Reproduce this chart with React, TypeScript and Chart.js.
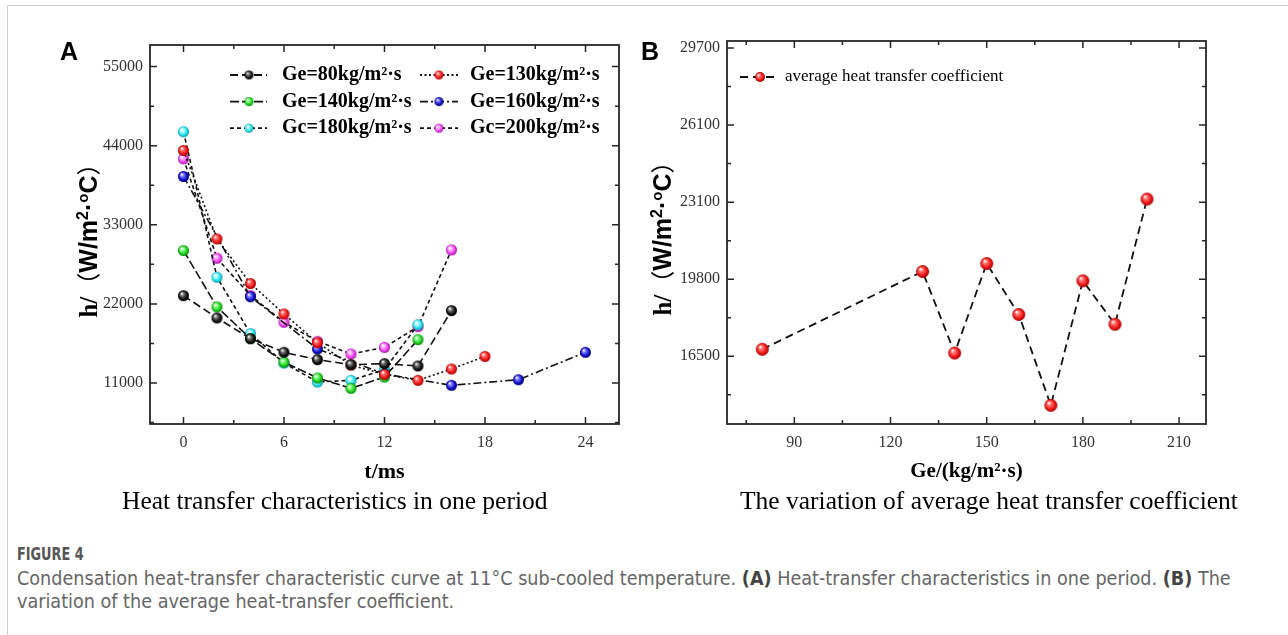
import React, { useEffect, useRef } from 'react';
import { Chart, registerables } from 'chart.js';

Chart.register(...registerables);

// ---------- Panel A data (t in ms, h in W/m2·°C) ----------
const T_80 = [0, 2, 4, 6, 8, 10, 12, 14, 16];
const H_80 = [23150, 20050, 17170, 15270, 14250, 13550, 13690, 13370, 21070];
const T_130 = [0, 2, 4, 6, 8, 10, 12, 14, 16, 18];
const H_130 = [43340, 31040, 24830, 20600, 16600, 13500, 12200, 11370, 12950, 14700];
const T_140 = [0, 2, 4, 6, 8, 10, 12, 14];
const H_140 = [29420, 21580, 17170, 13900, 11700, 10260, 11840, 17030];
const T_160 = [0, 4, 8, 12, 16, 20, 24];
const H_160 = [39720, 23000, 15730, 12250, 10680, 11460, 15270];
const T_180 = [0, 2, 4, 6, 8, 10, 12, 14];
const H_180 = [45940, 25710, 17870, 13780, 11140, 11370, 12860, 19100];
const T_200 = [0, 2, 4, 6, 8, 10, 12, 14, 16];
const H_200 = [42180, 28350, 23160, 19440, 16800, 15040, 15960, 18840, 29510];

const A_LABELS = [
  'Ge=80kg/m²·s',
  'Ge=130kg/m²·s',
  'Ge=140kg/m²·s',
  'Ge=160kg/m²·s',
  'Gc=180kg/m²·s',
  'Gc=200kg/m²·s',
];
const A_X_TICKS = [0, 6, 12, 18, 24];
const A_X_MINOR = [3, 9, 15, 21];
const A_Y_TICKS = [11000, 22000, 33000, 44000, 55000];
const A_Y_MINOR = [5500, 16500, 27500, 38500, 49500];

// ---------- Panel B data ----------
const GE = [80, 130, 140, 150, 160, 170, 180, 190, 200];
const H_AVG = [16800, 20130, 16640, 20470, 18290, 14400, 19730, 17870, 23230];
const B_LABEL = 'average heat transfer coefficient';
const B_X_TICKS = [90, 120, 150, 180, 210];
const B_X_MINOR = [75, 105, 135, 165, 195];
const B_Y_TICKS = [16500, 19800, 23100, 26400, 29700];
const B_Y_TICK_LABELS = ['16500', '19800', '23100', '26100', '29700'];
const B_Y_MINOR = [14850, 18150, 21450, 24750, 28050];

const SERIF = "'Liberation Serif', 'Times New Roman', serif";
const SANS = "'Liberation Sans', Arial, sans-serif";
const CJK = "'Noto Sans CJK SC', sans-serif";

// y-axis title, drawn as text runs (serif "h/", full-width brackets, sans units)
const Y_TITLE_RUNS = [
  { t: 'h/', font: `bold 25px ${SERIF}`, dy: 0 },
  { t: '（', font: `24px ${CJK}`, dy: 0 },
  { t: 'W/m', font: `bold 25px ${SANS}`, dy: 0 },
  { t: '2', font: `bold 16px ${SANS}`, dy: -9 },
  { t: '·', font: `bold 25px ${SANS}`, dy: 0 },
  { t: 'o', font: `bold 15px ${SANS}`, dy: -9 },
  { t: 'C', font: `bold 25px ${SANS}`, dy: 0 },
  { t: '）', font: `24px ${CJK}`, dy: 0 },
];

function makeSphere(cols: string[], r: number): HTMLCanvasElement {
  const size = Math.ceil(2 * r + 2);
  const c = document.createElement('canvas');
  c.width = size;
  c.height = size;
  const ctx = c.getContext('2d') as CanvasRenderingContext2D;
  const cx = size / 2;
  const cy = size / 2;
  const g = ctx.createRadialGradient(cx - r * 0.35, cy - r * 0.4, r * 0.05, cx, cy, r);
  g.addColorStop(0, '#ffffff');
  g.addColorStop(0.3, cols[0]);
  g.addColorStop(0.7, cols[1]);
  g.addColorStop(1, cols[2]);
  ctx.fillStyle = g;
  ctx.beginPath();
  ctx.arc(cx, cy, r, 0, Math.PI * 2);
  ctx.fill();
  return c;
}

const SPHERE_COLS: string[][] = [
  ['#777777', '#151515', '#000000'],
  ['#ff7070', '#f01818', '#a00000'],
  ['#8cff8c', '#22d422', '#0a800a'],
  ['#7878ff', '#1212cc', '#000070'],
  ['#b8ffff', '#22e2f0', '#0a92a2'],
  ['#ffb4ff', '#ee44ee', '#a010a0'],
];
const A_DASHES: number[][] = [[8, 4], [2, 2.5], [9, 3], [8, 3, 2, 3], [4, 3], [4, 3]];

const framePlugin = {
  id: 'frameTicks',
  afterDraw(chart: any, _args: any, opts: any) {
    const { ctx, chartArea } = chart;
    const { left, right, top, bottom } = chartArea;
    const xs = chart.scales.x;
    const ys = chart.scales.y;
    ctx.save();
    ctx.setLineDash([]);
    ctx.strokeStyle = '#262626';
    ctx.lineWidth = 1.8;
    ctx.strokeRect(left, top, right - left, bottom - top);
    ctx.lineWidth = 1.5;
    const drawX = (vals: number[], len: number) => {
      vals.forEach((v) => {
        const p = xs.getPixelForValue(v);
        ctx.beginPath();
        ctx.moveTo(p, bottom);
        ctx.lineTo(p, bottom - len);
        ctx.moveTo(p, top);
        ctx.lineTo(p, top + len);
        ctx.stroke();
      });
    };
    const drawY = (vals: number[], len: number) => {
      vals.forEach((v) => {
        const p = ys.getPixelForValue(v);
        ctx.beginPath();
        ctx.moveTo(left, p);
        ctx.lineTo(left + len, p);
        ctx.moveTo(right, p);
        ctx.lineTo(right - len, p);
        ctx.stroke();
      });
    };
    drawX(opts.xMajor, 7);
    drawX(opts.xMinor, 4);
    drawY(opts.yMajor, 7);
    drawY(opts.yMinor, 4);

    // rotated y-axis title
    const cx = opts.titleX;
    const cy = (top + bottom) / 2;
    ctx.translate(cx, cy);
    ctx.rotate(-Math.PI / 2);
    ctx.fillStyle = '#000';
    ctx.textBaseline = 'alphabetic';
    ctx.textAlign = 'left';
    let total = 0;
    Y_TITLE_RUNS.forEach((r) => {
      ctx.font = r.font;
      total += ctx.measureText(r.t).width;
    });
    let x = -total / 2;
    Y_TITLE_RUNS.forEach((r) => {
      ctx.font = r.font;
      ctx.fillText(r.t, x, 9 + r.dy);
      x += ctx.measureText(r.t).width;
    });
    ctx.restore();
  },
};

const legendPlugin = {
  id: 'sphereLegend',
  afterDraw(chart: any, _args: any, opts: any) {
    const { ctx } = chart;
    ctx.save();
    opts.items.forEach((it: any, i: number) => {
      const ds = chart.data.datasets[i];
      ctx.strokeStyle = '#111';
      ctx.lineWidth = 1.8;
      ctx.setLineDash(ds.borderDash || []);
      ctx.beginPath();
      ctx.moveTo(it.x0, it.y);
      ctx.lineTo(it.x1, it.y);
      ctx.stroke();
      ctx.setLineDash([]);
      const img = opts.markers[i];
      ctx.drawImage(img, it.mx - img.width / 2, it.y - img.height / 2);
      ctx.fillStyle = '#000';
      ctx.font = opts.font;
      ctx.textBaseline = 'middle';
      ctx.textAlign = 'left';
      ctx.fillText(ds.label, it.tx, it.y);
    });
    ctx.restore();
  },
};

const tickFont = { family: SERIF, size: 16 };

export default function App() {
  const leftRef = useRef<HTMLCanvasElement>(null);
  const rightRef = useRef<HTMLCanvasElement>(null);

  useEffect(() => {
    const seriesT = [T_80, T_130, T_140, T_160, T_180, T_200];
    const seriesH = [H_80, H_130, H_140, H_160, H_180, H_200];
    const spheres = SPHERE_COLS.map((c) => makeSphere(c, 5.5));
    const legSpheres = SPHERE_COLS.map((c) => makeSphere(c, 4.5));
    const legendItems = A_LABELS.map((_, i) => {
      const col = i % 2;
      const row = Math.floor(i / 2);
      const y = 75 + row * 26.6;
      return col === 0
        ? { x0: 230, x1: 267, mx: 249, tx: 282, y }
        : { x0: 420, x1: 458, mx: 439, tx: 470, y };
    });

    const left = new Chart(leftRef.current as HTMLCanvasElement, {
      type: 'line',
      data: {
        datasets: A_LABELS.map((label, i) => ({
          label,
          data: seriesT[i].map((t, j) => ({ x: t, y: seriesH[i][j] })),
          borderColor: '#111',
          borderWidth: 1.6,
          borderDash: A_DASHES[i],
          pointStyle: spheres[i] as any,
          pointRadius: 6,
          fill: false,
          tension: 0,
        })),
      },
      options: {
        animation: false,
        responsive: false,
        layout: { padding: { left: 0, top: 45, right: 21, bottom: 0 } },
        plugins: {
          legend: { display: false },
          tooltip: { enabled: false },
          frameTicks: {
            xMajor: A_X_TICKS,
            xMinor: A_X_MINOR,
            yMajor: A_Y_TICKS,
            yMinor: A_Y_MINOR,
            titleX: 88,
          },
          sphereLegend: { items: legendItems, markers: legSpheres, font: `bold 20px ${SERIF}` },
        } as any,
        scales: {
          x: {
            type: 'linear',
            min: -2,
            max: 26,
            grid: { display: false, drawTicks: false },
            border: { display: false },
            ticks: { font: tickFont, color: '#333', padding: 9, callback: (v: any) => String(v) },
            afterBuildTicks: (s: any) => {
              s.ticks = A_X_TICKS.map((v) => ({ value: v }));
            },
            afterFit: (s: any) => {
              s.height = 66;
            },
            title: {
              display: true,
              text: 't/ms',
              color: '#000',
              font: { family: SERIF, size: 22, weight: 'bold' },
              padding: { top: 0, bottom: 4.8 },
            },
          },
          y: {
            type: 'linear',
            min: 5300,
            max: 58000,
            grid: { display: false, drawTicks: false },
            border: { display: false },
            ticks: { font: tickFont, color: '#333', padding: 7, callback: (v: any) => String(v) },
            afterBuildTicks: (s: any) => {
              s.ticks = A_Y_TICKS.map((v) => ({ value: v }));
            },
            afterFit: (s: any) => {
              s.width = 150;
            },
            title: { display: false },
          },
        },
      },
      plugins: [framePlugin, legendPlugin],
    });

    const bSphere = makeSphere(SPHERE_COLS[1], 6.5);
    const bLeg = makeSphere(SPHERE_COLS[1], 5);
    const right = new Chart(rightRef.current as HTMLCanvasElement, {
      type: 'line',
      data: {
        datasets: [
          {
            label: B_LABEL,
            data: GE.map((g, i) => ({ x: g, y: H_AVG[i] })),
            borderColor: '#111',
            borderWidth: 1.8,
            borderDash: [8, 5],
            pointStyle: bSphere as any,
            pointRadius: 7,
            fill: false,
            tension: 0,
          },
        ],
      },
      options: {
        animation: false,
        responsive: false,
        layout: { padding: { left: 0, top: 41, right: 82, bottom: 0 } },
        plugins: {
          legend: { display: false },
          tooltip: { enabled: false },
          frameTicks: {
            xMajor: B_X_TICKS,
            xMinor: B_X_MINOR,
            yMajor: B_Y_TICKS,
            yMinor: B_Y_MINOR,
            titleX: 22,
          },
          sphereLegend: {
            items: [{ x0: 100, x1: 136, mx: 120, tx: 145, y: 77 }],
            markers: [bLeg],
            font: `17px ${SERIF}`,
          },
        } as any,
        scales: {
          x: {
            type: 'linear',
            min: 69,
            max: 218.4,
            grid: { display: false, drawTicks: false },
            border: { display: false },
            ticks: { font: tickFont, color: '#333', padding: 9, callback: (v: any) => String(v) },
            afterBuildTicks: (s: any) => {
              s.ticks = B_X_TICKS.map((v) => ({ value: v }));
            },
            afterFit: (s: any) => {
              s.height = 66;
            },
            title: {
              display: true,
              text: 'Ge/(kg/m²·s)',
              color: '#000',
              font: { family: SERIF, size: 21, weight: 'bold' },
              padding: { top: 0, bottom: 5.4 },
            },
          },
          y: {
            type: 'linear',
            min: 13600,
            max: 30000,
            grid: { display: false, drawTicks: false },
            border: { display: false },
            ticks: {
              font: tickFont,
              color: '#333',
              padding: 7,
              callback: (v: any) => {
                const k = B_Y_TICKS.indexOf(Number(v));
                return k >= 0 ? B_Y_TICK_LABELS[k] : '';
              },
            },
            afterBuildTicks: (s: any) => {
              s.ticks = B_Y_TICKS.map((v) => ({ value: v }));
            },
            afterFit: (s: any) => {
              s.width = 87;
            },
            title: { display: false },
          },
        },
      },
      plugins: [framePlugin, legendPlugin],
    });

    return () => {
      left.destroy();
      right.destroy();
    };
  }, []);

  const capFont = "'DejaVu Sans Condensed', 'Liberation Sans Narrow', Roboto, sans-serif";

  return (
    <div
      style={{
        position: 'fixed',
        left: 0,
        top: 0,
        width: 1288,
        height: 635,
        background: '#fff',
        overflow: 'hidden',
      }}
    >
      <div
        style={{
          position: 'absolute',
          left: 7,
          top: 5,
          width: 1300,
          height: 700,
          borderLeft: '1px solid #cfcfcf',
          borderTop: '1px solid #cfcfcf',
        }}
      />
      <canvas
        ref={leftRef}
        width={640}
        height={490}
        style={{ position: 'absolute', left: 0, top: 0, width: 640, height: 490 }}
      />
      <canvas
        ref={rightRef}
        width={648}
        height={490}
        style={{ position: 'absolute', left: 640, top: 0, width: 648, height: 490 }}
      />
      <div
        style={{
          position: 'absolute',
          left: 60,
          top: 39,
          font: `bold 25px ${SANS}`,
          lineHeight: '25px',
          color: '#000',
        }}
      >
        A
      </div>
      <div
        style={{
          position: 'absolute',
          left: 641,
          top: 39,
          font: `bold 25px ${SANS}`,
          lineHeight: '25px',
          color: '#000',
        }}
      >
        B
      </div>
      <div
        style={{
          position: 'absolute',
          left: 122,
          top: 488,
          font: `25.5px ${SERIF}`,
          lineHeight: '25.5px',
          whiteSpace: 'nowrap',
          color: '#000',
        }}
      >
        Heat transfer characteristics in one period
      </div>
      <div
        style={{
          position: 'absolute',
          left: 740,
          top: 488,
          font: `25.5px ${SERIF}`,
          lineHeight: '25.5px',
          whiteSpace: 'nowrap',
          color: '#000',
        }}
      >
        The variation of average heat transfer coefficient
      </div>
      <div
        style={{
          position: 'absolute',
          left: 17,
          top: 545,
          fontFamily: capFont,
          fontSize: 17,
          fontWeight: 600,
          lineHeight: '18px',
          color: '#555',
          whiteSpace: 'nowrap',
          transform: 'scaleX(0.84)',
          transformOrigin: 'left top',
        }}
      >
        FIGURE 4
      </div>
      <div
        style={{
          position: 'absolute',
          left: 17,
          top: 569,
          fontFamily: capFont,
          fontSize: 19.6,
          lineHeight: '19px',
          color: '#666',
          whiteSpace: 'nowrap',
        }}
      >
        Condensation heat-transfer characteristic curve at 11°C sub-cooled temperature.{' '}
        <b style={{ color: '#444' }}>(A)</b> Heat-transfer characteristics in one period.{' '}
        <b style={{ color: '#444' }}>(B)</b> The
      </div>
      <div
        style={{
          position: 'absolute',
          left: 17,
          top: 592,
          fontFamily: capFont,
          fontSize: 19.6,
          lineHeight: '19px',
          color: '#666',
          whiteSpace: 'nowrap',
        }}
      >
        variation of the average heat-transfer coefficient.
      </div>
    </div>
  );
}
